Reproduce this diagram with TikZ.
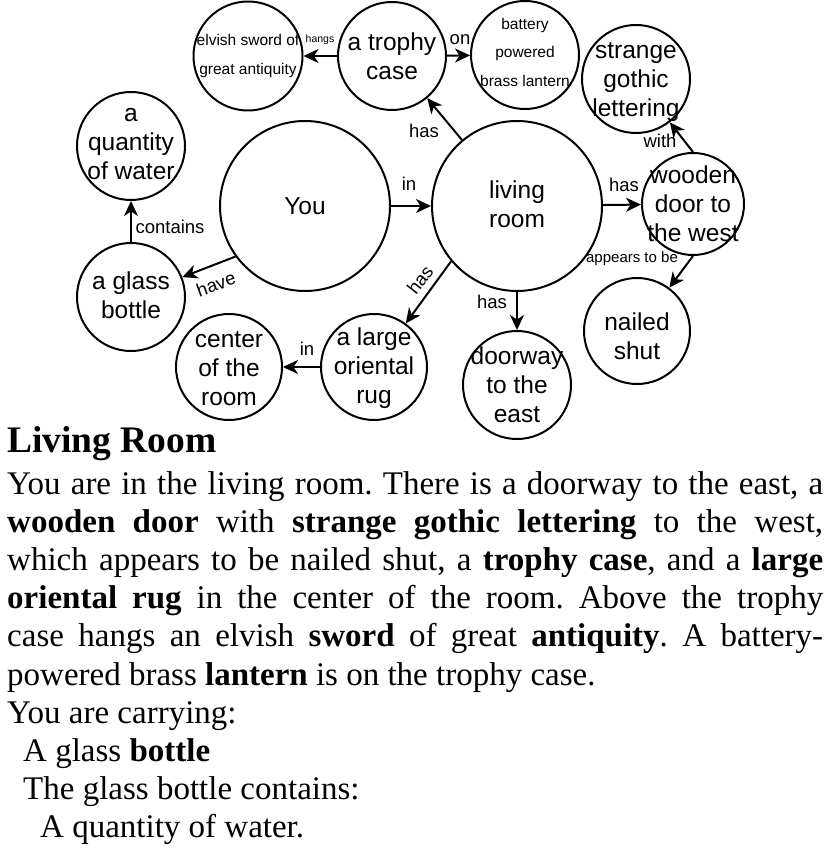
\documentclass[tikz,border=0pt]{standalone}
\usepackage{fontspec}
\setmainfont{Liberation Serif}
\newfontfamily\arialf{Liberation Sans}
\usetikzlibrary{arrows.meta}
\frenchspacing
\begin{document}
\begin{tikzpicture}[x=1pt,y=-1pt,
  circ/.style={circle, draw, line width=2pt, inner sep=0pt, minimum size=#1},
  ntext/.style={font=\arialf\fontsize{24.5}{29}\selectfont, align=center, inner sep=0pt},
  stext/.style={font=\arialf\fontsize{15.5}{28.5}\selectfont, align=center, inner sep=0pt},
  lbl/.style={font=\arialf\fontsize{18.5}{22}\selectfont, inner sep=0pt},
  tiny/.style={font=\arialf\fontsize{10.5}{12}\selectfont, inner sep=0pt},
  small/.style={font=\arialf\fontsize{15}{18}\selectfont, inner sep=0pt},
  arr/.style={line width=2pt, -{Stealth[length=15pt,width=14pt,inset=4.5pt]}},
  body/.style={anchor=base west, inner sep=0pt, font=\fontsize{33}{38}\selectfont},
]
\useasboundingbox (0,0) rectangle (831,866);
% circles
\node[circ=170] (you) at (305,206) {};
\node[circ=170] (lr) at (517,206) {};
\node[circ=108] (trophy) at (392,56) {};
\node[circ=109] (sword) at (248,56) {};
\node[circ=108] (lantern) at (525,55) {};
\node[circ=108] (strange) at (636,79) {};
\node[circ=102] (door) at (693,204) {};
\node[circ=106] (nailed) at (637,331) {};
\node[circ=108] (water) at (131,146) {};
\node[circ=108] (bottle) at (131,297) {};
\node[circ=106] (centre) at (229,367) {};
\node[circ=106] (rug) at (374,367) {};
\node[circ=108] (doorway) at (517,385) {};
% texts
\node[ntext] (tyou) at (you) {You};
\node[ntext] (tlr) at (517,204) {living\\room};
\node[ntext] (ttrophy) at (trophy) {a trophy\\case};
\node[stext] (tsword) at (sword) {elvish sword of\\great antiquity};
\node[stext] (tlantern) at (525,52) {battery\\powered\\brass lantern};
\node[ntext] (tstrange) at (636,82) {strange\\gothic\\lettering};
\node[ntext] (tdoor) at (693,204) {wooden\\door to\\the west};
\node[ntext] (tnailed) at (637,336) {nailed\\shut};
\node[ntext] (twater) at (131,144) {a\\quantity\\of water};
\node[ntext] (tbottle) at (131,295) {a glass\\bottle};
\node[ntext] (tcentre) at (229,369) {center\\of the\\room};
\node[ntext] (trug) at (374,368) {a large\\oriental\\rug};
\node[ntext] (tdoorway) at (doorway) {doorway\\to the\\east};
% edges
\draw[arr] (you) -- (lr);
\draw[arr] (lr) -- (trophy);
\draw[arr] (trophy) -- (sword);
\draw[arr] (trophy) -- (lantern);
\draw[arr] (lr) -- (door);
\draw[arr] (door.north) -- (strange);
\draw[arr] (door.south) -- (nailed);
\draw[arr] (lr) -- (doorway);
\draw[arr] (lr.220) -- (rug);
\draw[arr] (rug) -- (centre);
\draw[arr] (you.216) -- (bottle);
\draw[arr] (bottle) -- (water);
% edge labels
\node[lbl, anchor=base] (l1) at (409,191) {in};
\node[lbl, anchor=base] (l2) at (424,138) {has};
\node[tiny, anchor=base] (l3) at (320,43) {hangs};
\node[lbl, anchor=base] (l4) at (460,45) {on};
\node[lbl, anchor=base] (l5) at (624,191.5) {has};
\node[lbl, anchor=base] (l6) at (660,148) {with};
\node[small, anchor=base] (l7) at (632,263) {appears to be};
\node[lbl, anchor=base] (l8) at (492,308) {has};
\node[lbl, rotate=52] (l9) at (420,280) {has};
\node[lbl, anchor=base] (l10) at (307,355) {in};
\node[lbl, rotate=20] (l11) at (216,284) {have};
\node[lbl, anchor=base] (l12) at (170,234) {contains};
% body text
\node[anchor=base west, inner sep=0pt, font=\bfseries\fontsize{37.5}{40}\selectfont] (head) at (7,452) {Living Room};
\node[body] (p1) at (7,494) {\makebox[816pt][s]{You are in the living room. There is a doorway to the east, a}};
\node[body] (p2) at (7,532.2) {\makebox[816pt][s]{\textbf{wooden door} with \textbf{strange gothic lettering} to the west,}};
\node[body] (p3) at (7,570.4) {\makebox[816pt][s]{which appears to be nailed shut, a \textbf{trophy case}, and a \textbf{large}}};
\node[body] (p4) at (7,608.6) {\makebox[816pt][s]{\textbf{oriental rug} in the center of the room. Above the trophy}};
\node[body] (p5) at (7,646.8) {\makebox[816pt][s]{case hangs an elvish \textbf{sword} of great \textbf{antiquity}. A battery-}};
\node[body] (p6) at (7,685) {powered brass \textbf{lantern} is on the trophy case.};
\node[body] (p7) at (7,723.2) {You are carrying:};
\node[body] (p8) at (23,761.4) {A glass \textbf{bottle}};
\node[body] (p9) at (23,799.6) {The glass bottle contains:};
\node[body] (p10) at (40,837.8) {A quantity of water.};
\end{tikzpicture}
\end{document}
